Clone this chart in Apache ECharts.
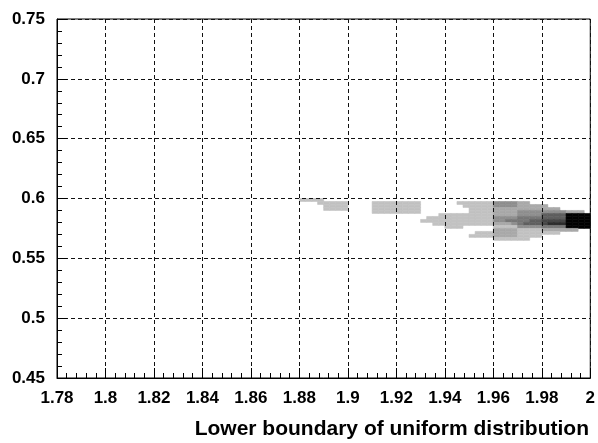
<!DOCTYPE html>
<html>
<head>
<meta charset="utf-8">
<script src="https://cdn.jsdelivr.net/npm/echarts@6/dist/echarts.min.js"></script>
<style>html,body{margin:0;padding:0;background:#fff;}#c{width:598px;height:443px;}</style>
</head>
<body>
<div id="c"></div>
<script>
// Axis ranges and tick settings
const xMin = 1.78, xMax = 2.0, xStep = 0.02;
const yMin = 0.45, yMax = 0.75, yStep = 0.05;
const xTitle = 'Lower boundary of uniform distribution';

// Histogram cell geometry (data units)
const cellX0 = 1.88, cellW = 0.0025;
const cellYTop = 0.6, cellH = 0.0025;

// Density levels per row (top row first), one char per cell; '.' = empty, 1..8 = grey level
const densityRows = [
  "1111 .... .... .... .... .... .... .... .... .... .... ....",
  "...1 1111 .... 1111 1111 .... ..11 1111 3333 22.. .... ....",
  ".... 1111 .... 1111 1111 .... ...1 1111 3333 2222 2... ....",
  ".... 1111 .... 1111 1111 .... .... 1111 2222 2222 222. ....",
  ".... .... .... 1111 1111 .... .... 1111 2222 3333 3333 222.",
  ".... .... .... .... .... ...1 1111 1111 2222 3333 5555 8888",
  ".... .... .... .... .... .111 1111 1111 3333 4444 5555 8888",
  ".... .... .... .... .... 1111 1111 1111 3344 4455 6666 8888",
  ".... .... .... .... .... ..11 1111 1111 2223 4555 6777 8888",
  ".... .... .... .... .... .... 111. .... 1111 3333 4444 8888",
  ".... .... .... .... .... .... .... .... 2222 1111 2222 22..",
  ".... .... .... .... .... .... .... .111 2222 1111 111. ....",
  ".... .... .... .... .... .... .... 1111 2222 1111 .... ....",
  ".... .... .... .... .... .... .... .... 1111 11.. .... ...."
];

const levelColors = ['#c2c2c2','#a9a9a9','#8f8f8f','#777777','#5f5f5f','#464646','#2c2c2c','#000000'];

const cells = [];
densityRows.forEach(function (row, j) {
  const s = row.replace(/ /g, '');
  for (let i = 0; i < s.length; i++) {
    const ch = s[i];
    if (ch !== '.') {
      cells.push([+(cellX0 + i * cellW).toFixed(4), +(cellYTop - j * cellH).toFixed(4), parseInt(ch, 10)]);
    }
  }
});

const font = "'Liberation Sans', Arial, sans-serif";
const fmt = function (v) { return String(+(+v).toFixed(2)); };

const chart = echarts.init(document.getElementById('c'), null, {renderer: 'canvas'});
chart.setOption({
  animation: false,
  backgroundColor: '#ffffff',
  title: {
    text: xTitle,
    right: 9, top: 419, padding: 0,
    textStyle: {fontFamily: font, fontWeight: 'bold', fontSize: 21, color: '#000'}
  },
  grid: {
    left: 57, right: 5, top: 19, bottom: 65,
    show: true, borderColor: '#000', borderWidth: 1, backgroundColor: 'transparent'
  },
  xAxis: {
    type: 'value', min: xMin, max: xMax, interval: xStep, z: 5,
    axisLine: {show: true, onZero: false, lineStyle: {color: '#000', width: 1}},
    axisTick: {show: true, inside: true, length: 10, lineStyle: {color: '#000'}},
    minorTick: {show: true, splitNumber: 5, length: 5, lineStyle: {color: '#000'}},
    splitLine: {show: true, lineStyle: {color: '#111', type: [4, 3], width: 1}},
    axisLabel: {formatter: fmt, margin: 12, fontFamily: font, fontWeight: 'bold', fontSize: 17, color: '#000'}
  },
  yAxis: {
    type: 'value', min: yMin, max: yMax, interval: yStep, z: 5,
    axisLine: {show: true, onZero: false, lineStyle: {color: '#000', width: 1}},
    axisTick: {show: true, inside: true, length: 10, lineStyle: {color: '#000'}},
    minorTick: {show: true, splitNumber: 5, length: 5, lineStyle: {color: '#000'}},
    splitLine: {show: true, lineStyle: {color: '#111', type: [4, 3], width: 1}},
    axisLabel: {formatter: fmt, margin: 12, fontFamily: font, fontWeight: 'bold', fontSize: 17, color: '#000'}
  },
  series: [{
    type: 'custom',
    z: 1,
    data: cells,
    renderItem: function (params, api) {
      const x0 = api.value(0), y0 = api.value(1), lvl = api.value(2);
      const p1 = api.coord([x0, y0]);
      const p2 = api.coord([x0 + cellW, y0 - cellH]);
      const c = levelColors[lvl - 1];
      return {
        type: 'rect',
        shape: {x: p1[0], y: p1[1], width: p2[0] - p1[0], height: p2[1] - p1[1]},
        style: {fill: c, stroke: c, lineWidth: 0.6}
      };
    }
  }]
});
</script>
</body>
</html>
